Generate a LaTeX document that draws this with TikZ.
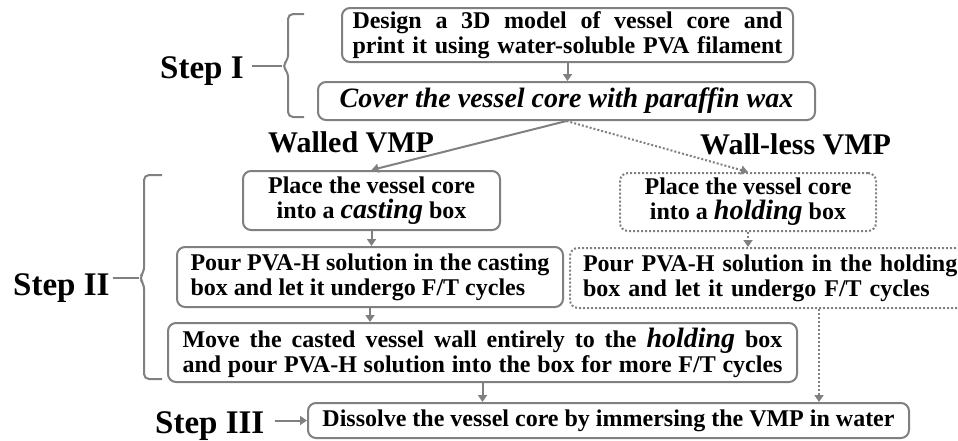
\documentclass[tikz,border=0pt]{standalone}
\usepackage{fontspec}
\setmainfont{Liberation Serif}[ItalicFont={Liberation Serif Italic}, BoldFont={Liberation Serif Bold}, BoldItalicFont={Liberation Serif Bold Italic}]
\usetikzlibrary{arrows.meta}
\definecolor{lc}{RGB}{128,128,128}
\newcommand\BigIt[1]{{\fontsize{28}{25}\selectfont\itshape #1}}
\begin{document}
\begin{tikzpicture}[x=1pt,y=-1pt,
  box/.style={draw=lc, line width=2pt, rounded corners=8pt, inner sep=0pt, align=center,
    font=\bfseries\fontsize{24}{25}\selectfont},
  dbox/.style={box, dash pattern=on 2pt off 2pt},
  arr/.style={draw=lc, line width=2pt, -{Triangle[width=9pt,length=7pt]}},
  darr/.style={arr, dash pattern=on 2pt off 2pt},
  brk/.style={draw=lc, line width=2pt},
  lbl/.style={font=\bfseries\fontsize{33}{33}\selectfont, anchor=base west, inner sep=0pt},
  vmp/.style={font=\bfseries\fontsize{30}{30}\selectfont, anchor=base west, inner sep=0pt}]
\useasboundingbox (0,0) rectangle (958,440);
\clip (0,0) rectangle (958,440);

% boxes
\node[box, minimum width=451, minimum height=54] (B1) at (567.5,35)
  {\makebox[430pt][s]{Design a 3D model of vessel core and}\\\makebox[430pt][s]{print it using water-soluble PVA filament}};
\node[box, minimum width=497, minimum height=38, font=\bfseries\itshape\fontsize{28}{28}\selectfont] (B2) at (566.5,101)
  {Cover the vessel core with paraffin wax};
\node[box, minimum width=257, minimum height=59] (B3) at (371.5,200.5)
  {Place the vessel core\\into a \BigIt{casting} box};
\node[dbox, minimum width=256, minimum height=58] (B4) at (748,202)
  {Place the vessel core\\into a \BigIt{holding} box};
\node[box, minimum width=386, minimum height=60, align=left] (B5) at (370,277)
  {Pour PVA-H solution in the casting\\box and let it undergo F/T cycles};
\node[dbox, text width=472pt, inner xsep=13pt, minimum height=60, align=left] (B6) at (819,278)
  {Pour PVA-H solution in the holding\\box and let it undergo F/T cycles};
\node[box, minimum width=629, minimum height=59] (B7) at (482.5,352.5)
  {\makebox[600pt][s]{Move the casted vessel wall entirely to the \BigIt{holding} box}\\\makebox[600pt][s]{and pour PVA-H solution into the box for more F/T cycles}};
\node[box, minimum width=601, minimum height=35] (B8) at (608.5,420.5)
  {Dissolve the vessel core by immersing the VMP in water};

% labels
\node[lbl] (S1) at (160,78) {Step I};
\node[lbl] (S2) at (13,295) {Step II};
\node[lbl] (S3) at (155,433) {Step III};
\node[vmp] (W1) at (268,152) {Walled VMP};
\node[vmp] (W2) at (700,154) {Wall-less VMP};

% connectors
\draw[arr] (B1.south) -- (B1.south |- B2.north);
\draw[arr] (B2.south) -- (B3.north);
\draw[darr] (B2.south) -- (B4.north);
\draw[arr] (B3.south) -- (B3.south |- B5.north);
\draw[darr] (B4.south) -- (B4.south |- B6.north);
\draw[arr] (B5.south) -- (B5.south |- B7.north);
\draw[darr] (B6.south) -- (B6.south |- B8.north);
\draw[arr] (B7.south) -- (B7.south |- B8.north);
\draw[arr] ([xshift=10pt]S3.east |- B8.west) -- (B8.west);

% brackets
\coordinate (K1) at (282,66);
\draw[brk, rounded corners=5pt] (304,14) -- (288,14) -- (288,60) -- (K1) -- (288,72) -- (288,117) -- (304,117);
\draw[brk] ([xshift=8pt]S1.east |- K1) -- (K1);
\coordinate (K2) at (139,278);
\draw[brk, rounded corners=5pt] (162,175) -- (144,175) -- (144,272) -- (K2) -- (144,284) -- (144,379) -- (162,379);
\draw[brk] ([xshift=3pt]S2.east |- K2) -- (K2);
\end{tikzpicture}
\end{document}
